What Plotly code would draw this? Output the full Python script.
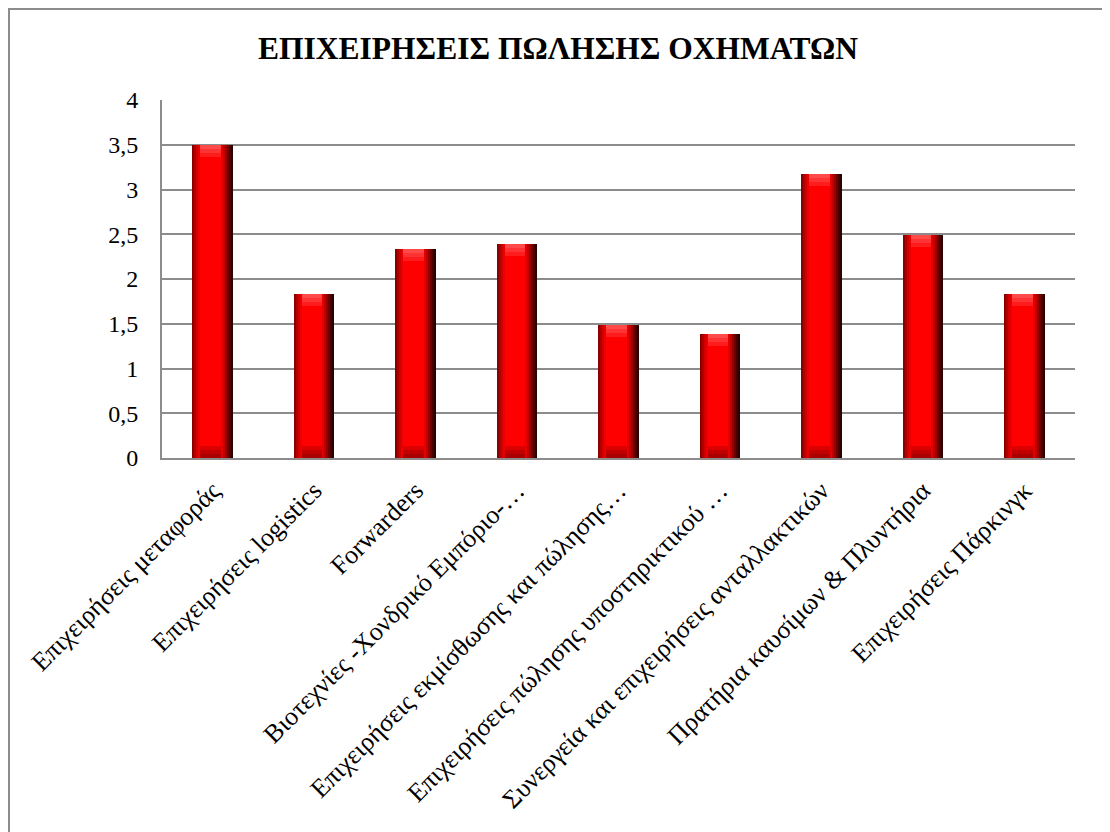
import plotly.graph_objects as go

# data
categories = [
    "Επιχειρήσεις μεταφοράς",
    "Επιχειρήσεις logistics",
    "Forwarders",
    "Βιοτεχνίες -Χονδρικό Εμπόριο-…",
    "Επιχειρήσεις εκμίσθωσης και πώλησης…",
    "Επιχειρήσεις πώλησης υποστηρικτικού …",
    "Συνεργεία και επιχειρήσεις ανταλλακτικών",
    "Πρατήρια καυσίμων & Πλυντήρια",
    "Επιχειρήσεις Πάρκινγκ",
]
values = [3.5, 1.83, 2.33, 2.39, 1.49, 1.39, 3.17, 2.49, 1.83]
y_tickvals = [0, 0.5, 1, 1.5, 2, 2.5, 3, 3.5, 4]
y_ticktext = ["0", "0,5", "1", "1,5", "2", "2,5", "3", "3,5", "4"]
title_text = "ΕΠΙΧΕΙΡΗΣΕΙΣ ΠΩΛΗΣΗΣ ΟΧΗΜΑΤΩΝ"

FONT = "Liberation Serif, Times New Roman, serif"
W, H = 1110, 832
# page has an 8px body margin, so positions are measured minus 8
L, R, T, B = 154, 43, 92, 382

bar_w = 0.4
px_x = 9 / (W - L - R)        # category units per pixel
px_y = 4 / (H - T - B)        # value units per pixel
bar_px = bar_w / px_x

fig = go.Figure()


def strip(x0, x1, color, y=None, base=None):
    # one slice of a bar, x0/x1 in pixels from the bar's left edge
    fig.add_trace(go.Bar(
        x=categories, y=y if y is not None else values, base=base,
        offset=-bar_w / 2 + x0 * px_x, width=(x1 - x0) * px_x,
        marker=dict(color=color, line=dict(width=0)),
        hoverinfo="skip", showlegend=False,
    ))


# main body
strip(0, bar_px, "#ff0000")

# top bevel (lighter) and bottom bevel (darker), stepped trapezoids
band = 4
for k, col in enumerate(["#ff4a4a", "#ff3333", "#ff1c1c"]):
    strip(band * k, bar_px - band * k, col,
          y=[band * px_y] * len(values),
          base=[v - band * (k + 1) * px_y for v in values])
for k, col in enumerate(["#a80000", "#c00000", "#dc0000"]):
    strip(band * k, bar_px - band * k, col,
          y=[band * px_y] * len(values),
          base=[band * k * px_y] * len(values))

# side shading
for x0, x1, col in [(0, 2, "#8a0000"), (2, 4, "#b00000"), (4, 6, "#d00000"), (6, 8, "#ea0000")]:
    strip(x0, x1, col)
for d0, d1, col in [(0, 2, "#2a0000"), (2, 4, "#4a0000"), (4, 6, "#700000"),
                    (6, 8, "#980000"), (8, 10, "#c00000"), (10, 12, "#e40000")]:
    strip(bar_px - d1, bar_px - d0, col)

# outer chart border
pw, ph = W - L - R, H - T - B
fig.add_shape(type="rect", xref="paper", yref="paper",
              x0=(1 - L) / pw, x1=(1101 - L) / pw,
              y0=(H - B - 845) / ph, y1=(H - B - 1) / ph,
              line=dict(color="#8c8c8c", width=2), fillcolor="rgba(0,0,0,0)", layer="below")

fig.update_layout(
    width=W, height=H,
    margin=dict(l=L, r=R, t=T, b=B),
    paper_bgcolor="white", plot_bgcolor="white",
    barmode="overlay", bargap=0,
    font=dict(family=FONT, color="black"),
    title=dict(text="<b>" + title_text + "</b>", x=550 / W, xref="container", xanchor="center",
               y=1 - 40 / H, yref="container", yanchor="middle",
               font=dict(family=FONT, size=31.5, color="black")),
    showlegend=False,
)
fig.update_xaxes(
    type="category", tickangle=-45, automargin=False,
    tickfont=dict(family=FONT, size=26, color="black"),
    showline=True, linecolor="#8c8c8c", linewidth=2,
    showgrid=False, ticks="outside", ticklen=5, tickcolor="rgba(0,0,0,0)",
)
fig.update_yaxes(
    range=[0, 4], tickvals=y_tickvals, ticktext=y_ticktext, automargin=False,
    tickfont=dict(family=FONT, size=24, color="black"),
    showgrid=True, gridcolor="#8c8c8c", gridwidth=2,
    showline=True, linecolor="#8c8c8c", linewidth=2,
    ticks="outside", ticklen=17, tickcolor="rgba(0,0,0,0)", zeroline=False,
)

fig.write_html("out.html")
